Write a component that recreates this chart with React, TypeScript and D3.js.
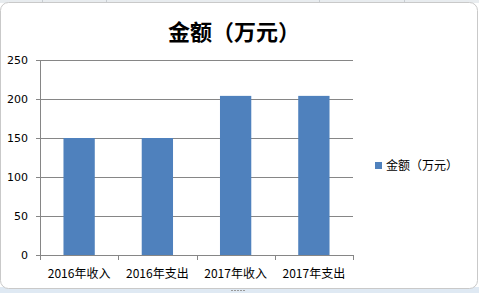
import React from "react";
import * as d3 from "d3";

const categories = ["2016年收入", "2016年支出", "2017年收入", "2017年支出"];
const values = [150, 150, 204, 204];
const yTicks = [0, 50, 100, 150, 200, 250];
const seriesName = "金额（万元）";
const title = "金额（万元）";

const W = 479;
const H = 293;
const M = { left: 40, right: 353, top: 60, bottom: 255 };

export default function App() {
  const x = d3
    .scaleBand<string>()
    .domain(categories)
    .range([M.left, M.right])
    .paddingInner(0.6)
    .paddingOuter(0.3);
  const band = d3.scaleBand<string>().domain(categories).range([M.left, M.right]);
  const y = d3.scaleLinear().domain([0, 250]).range([M.bottom, M.top]);
  const cjk = "'Noto Sans CJK SC', 'Noto Sans', sans-serif";
  const num = "'DejaVu Sans', sans-serif";

  const edges = categories.map((c) => band(c) as number).concat([M.right]);

  return (
    <svg
      width={W}
      height={H}
      style={{ position: "fixed", left: 0, top: 0, display: "block", background: "#fff" }}
    >
      {/* spreadsheet strips */}
      <rect x={0} y={0} width={W} height={3} fill="#e8ecef" />
      {[42, 106, 319, 404].map((gx) => (
        <line key={gx} x1={gx + 0.5} x2={gx + 0.5} y1={0} y2={3} stroke="#c8cdd2" />
      ))}
      <rect x={0} y={287} width={W} height={6} fill="#dfe9f3" />
      <rect
        x={0.5}
        y={2.5}
        width={W - 2}
        height={286}
        rx={8}
        ry={8}
        fill="#fff"
        stroke="#c9c9c9"
      />
      <line x1={231} x2={246} y1={290.5} y2={290.5} stroke="#9a9a9a" strokeDasharray="2 1" />

      {/* title */}
      <text
        x={234}
        y={30}
        textAnchor="middle"
        dominantBaseline="central"
        fontFamily={cjk}
        fontWeight={600}
        fontSize={22}
        fill="#000"
      >
        {title}
      </text>

      {/* gridlines */}
      {yTicks.map((t) => (
        <g key={t}>
          <line
            x1={M.left - 4}
            x2={M.right}
            y1={Math.round(y(t)) + 0.5}
            y2={Math.round(y(t)) + 0.5}
            stroke="#868686"
          />
          <text
            x={28}
            y={y(t)}
            textAnchor="end"
            dominantBaseline="central"
            fontFamily={num}
            fontSize={11}
            fill="#000"
          >
            {t}
          </text>
        </g>
      ))}
      {/* y axis */}
      <line x1={M.left + 0.5} x2={M.left + 0.5} y1={M.top} y2={M.bottom} stroke="#868686" />

      {/* bars */}
      {categories.map((c, i) => (
        <rect
          key={c}
          x={x(c)}
          y={y(values[i])}
          width={x.bandwidth()}
          height={M.bottom - y(values[i])}
          fill="#4f81bd"
        />
      ))}

      {/* x ticks */}
      {edges.map((ex, i) => (
        <line
          key={i}
          x1={Math.round(ex) + 0.5}
          x2={Math.round(ex) + 0.5}
          y1={M.bottom}
          y2={M.bottom + 5}
          stroke="#868686"
        />
      ))}
      {categories.map((c) => (
        <text
          key={c}
          x={(band(c) as number) + band.bandwidth() / 2}
          y={272}
          textAnchor="middle"
          dominantBaseline="central"
          fontFamily={cjk}
          fontSize={12}
          fill="#000"
        >
          {c}
        </text>
      ))}

      {/* legend */}
      <rect x={375} y={162} width={7} height={7} fill="#4f81bd" />
      <text
        x={386}
        y={164}
        dominantBaseline="central"
        fontFamily={cjk}
        fontSize={12}
        fill="#000"
      >
        {seriesName}
      </text>
    </svg>
  );
}
